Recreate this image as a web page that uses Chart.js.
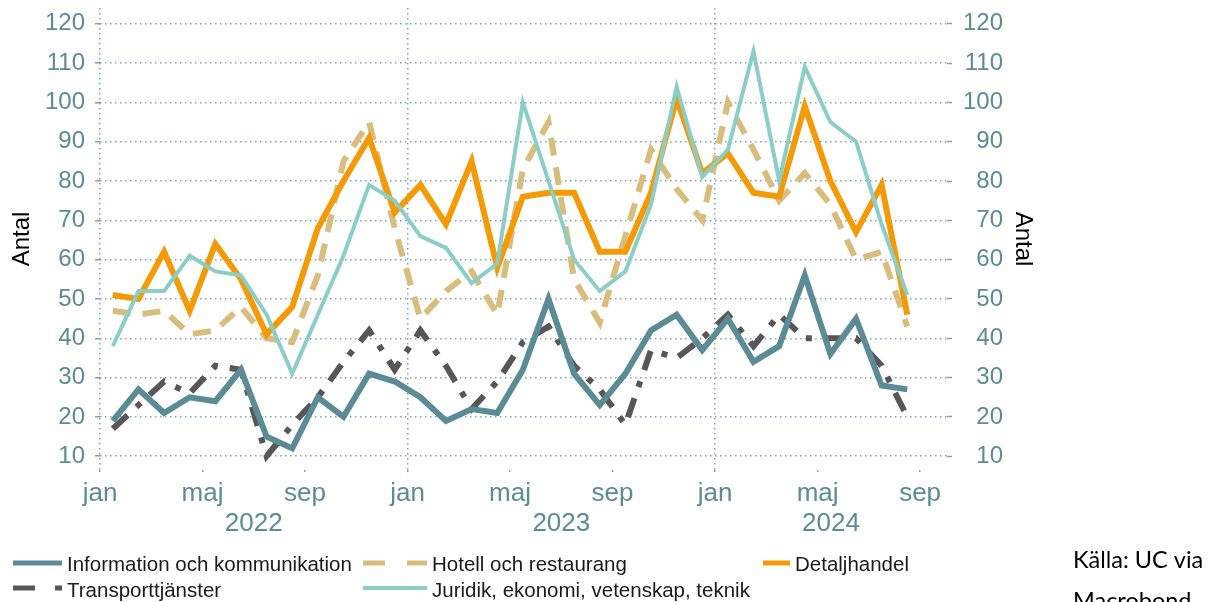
<!DOCTYPE html>
<html>
<head>
<meta charset="utf-8">
<script src="https://cdn.jsdelivr.net/npm/chart.js@4.4.1/dist/chart.umd.min.js"></script>
<style>
  html, body { margin: 0; padding: 0; background: #fff; }
</style>
</head>
<body>
<canvas id="chart" width="1214" height="602"></canvas>
<script>
// months jan 2022 .. aug 2024
const months = [
  "2022-01","2022-02","2022-03","2022-04","2022-05","2022-06","2022-07","2022-08","2022-09","2022-10","2022-11","2022-12",
  "2023-01","2023-02","2023-03","2023-04","2023-05","2023-06","2023-07","2023-08","2023-09","2023-10","2023-11","2023-12",
  "2024-01","2024-02","2024-03","2024-04","2024-05","2024-06","2024-07","2024-08"
];

const info      = [19,27,21,25,24,32,15,12,25,20,31,29,25,19,22,21,32,50,31,23,31,42,46,37,45,34,38,56,36,45,28,27];
const hotell    = [47,46,47,41,42,48,40,39,56,85,95,68,45,52,57,46,83,95,55,44,66,88,78,70,100,88,75,82,74,60,62,43];
const detalj    = [51,50,62,47,64,55,41,48,68,80,91,72,79,69,85,58,76,77,77,62,62,77,101,82,87,77,76,99,80,67,79,46];
const transport = [17,23,29,26,33,32,10,18,25,34,42,32,42,33,22,29,39,43,33,27,18,37,35,40,46,38,46,40,40,40,33,20];
const juridik   = [38,52,52,61,57,56,46,31,46,61,79,75,66,63,54,59,100,80,60,52,57,74,104,81,88,113,80,109,95,90,69,51];

const seriesNames = [
  "Information och kommunikation",
  "Hotell och restaurang",
  "Detaljhandel",
  "Transporttjänster",
  "Juridik, ekonomi, vetenskap, teknik"
];

const monthTickLabels = ["jan","maj","sep","jan","maj","sep","jan","maj","sep"];
const yearLabels = ["2022","2023","2024"];
const yTicks = [10,20,30,40,50,60,70,80,90,100,110,120];

const FONT = "'Liberation Sans', Arial, sans-serif";
const axisColor = "#5b8c96";
const gridColor = "#7ea3ab";
const xMax = 33.05;

Chart.defaults.font.family = FONT;

const toPoints = arr => arr.map((v, i) => ({ x: i + 0.5, y: v }));

const monthTicks = monthTickLabels.map((_, i) => i * 4);
const yearTicks = [6, 18, (24 + xMax) / 2];

const legendPlugin = {
  id: "customLegend",
  afterDraw(chart) {
    const ctx = chart.ctx;
    const ds = chart.data.datasets;
    const items = [
      { d: ds[0], x0: 13, x1: 62, y: 563, tx: 67, ty: 571, dash: [] },
      { d: ds[1], x0: 363, x1: 427, y: 563, tx: 432, ty: 571, dash: [22, 22] },
      { d: ds[2], x0: 763, x1: 790, y: 563, tx: 795, ty: 571, dash: [] },
      { d: ds[3], x0: 13, x1: 62, y: 588, tx: 67, ty: 597, dash: [22, 20, 7, 20] },
      { d: ds[4], x0: 363, x1: 427, y: 588, tx: 432, ty: 597, dash: [] }
    ];
    ctx.save();
    items.forEach(it => {
      ctx.beginPath();
      ctx.setLineDash(it.dash);
      ctx.strokeStyle = it.d.borderColor;
      ctx.lineWidth = it.d.borderWidth >= 5 ? 5 : 4;
      ctx.lineCap = "butt";
      ctx.moveTo(it.x0, it.y);
      ctx.lineTo(it.x1, it.y);
      ctx.stroke();
      ctx.setLineDash([]);
      ctx.fillStyle = "#1a1a1a";
      ctx.font = "20.5px " + FONT;
      ctx.textBaseline = "alphabetic";
      ctx.textAlign = "left";
      ctx.fillText(it.d.label, it.tx, it.ty);
    });
    ctx.fillStyle = "#000";
    ctx.font = "23.5px Lato, 'Open Sans', sans-serif";
    ctx.fillText("Källa: UC via", 1073, 568);
    ctx.fillText("Macrobond", 1073, 609);
    ctx.restore();
  }
};

const noPad = s => { s.paddingTop = 0; s.paddingBottom = 0; };

const ySide = {
  min: 6.5,
  max: 124,
  afterBuildTicks: s => { s.ticks = yTicks.map(v => ({ value: v })); }
};

new Chart(document.getElementById("chart"), {
  type: "line",
  data: {
    datasets: [
      { label: seriesNames[0], data: toPoints(info), borderColor: "#5b8c95", borderWidth: 6, order: 0 },
      { label: seriesNames[1], data: toPoints(hotell), borderColor: "#d8bd7c", borderWidth: 6, borderDash: [18, 12], order: 3 },
      { label: seriesNames[2], data: toPoints(detalj), borderColor: "#f39a06", borderWidth: 6, order: 2 },
      { label: seriesNames[3], data: toPoints(transport), borderColor: "#575757", borderWidth: 6, borderDash: [20, 12, 6, 12], order: 4 },
      { label: seriesNames[4], data: toPoints(juridik), borderColor: "#8bcec8", borderWidth: 4, order: 1 }
    ]
  },
  options: {
    responsive: false,
    animation: false,
    devicePixelRatio: 1,
    layout: { padding: { left: 0, right: 177, top: 8, bottom: 68 } },
    elements: {
      point: { radius: 0, hoverRadius: 0 },
      line: { tension: 0, borderJoinStyle: "miter", borderCapStyle: "butt" }
    },
    plugins: { legend: { display: false }, tooltip: { enabled: false } },
    scales: {
      x: {
        type: "linear",
        position: "bottom",
        min: 0,
        max: xMax,
        afterBuildTicks: s => { s.ticks = monthTicks.map(v => ({ value: v })); },
        afterFit: s => { s.height = 38; },
        ticks: {
          autoSkip: false,
          maxRotation: 0,
          padding: 3,
          color: axisColor,
          font: { size: 26 },
          callback: (v, i) => monthTickLabels[i]
        },
        grid: {
          color: c => (c.tick && c.tick.value % 12 === 0) ? gridColor : "rgba(0,0,0,0)",
          lineWidth: 1.5,
          tickLength: 5,
          tickColor: gridColor,
          tickWidth: 1.5,
          tickBorderDash: [2, 4]
        },
        border: { display: false, dash: [1.5, 3.5] }
      },
      xYear: {
        type: "linear",
        position: "bottom",
        min: 0,
        max: xMax,
        afterBuildTicks: s => { s.ticks = yearTicks.map(v => ({ value: v })); },
        afterFit: s => { s.height = 26; },
        ticks: {
          autoSkip: false,
          maxRotation: 0,
          padding: 0,
          color: axisColor,
          font: { size: 26 },
          callback: (v, i) => yearLabels[i]
        },
        grid: { display: false, drawTicks: false },
        border: { display: false }
      },
      y: {
        ...ySide,
        position: "left",
        afterFit: s => { s.width = 100; noPad(s); },
        ticks: { color: axisColor, font: { size: 24 }, padding: 10 },
        grid: { color: gridColor, lineWidth: 1.5, tickLength: 5, tickColor: gridColor, tickWidth: 1.5, tickBorderDash: [] },
        border: { display: false, dash: [1.5, 3.5] },
        title: { display: true, text: "Antal", color: "#000", font: { size: 24 }, padding: { top: 7.6, bottom: 0 } }
      },
      y2: {
        ...ySide,
        position: "right",
        afterFit: s => { s.width = 56; noPad(s); },
        ticks: { color: axisColor, font: { size: 24 }, crossAlign: "far", padding: 8 },
        grid: { drawOnChartArea: false, tickLength: 5, tickColor: gridColor, tickWidth: 1.5 },
        border: { display: false }
      },
      y3: {
        position: "right",
        afterFit: s => { s.width = 34; noPad(s); },
        ticks: { display: false },
        grid: { display: false, drawTicks: false },
        border: { display: false },
        title: { display: true, text: "Antal", color: "#000", font: { size: 24 }, padding: { top: 0, bottom: 0 } }
      }
    }
  },
  plugins: [legendPlugin]
});
</script>
</body>
</html>
